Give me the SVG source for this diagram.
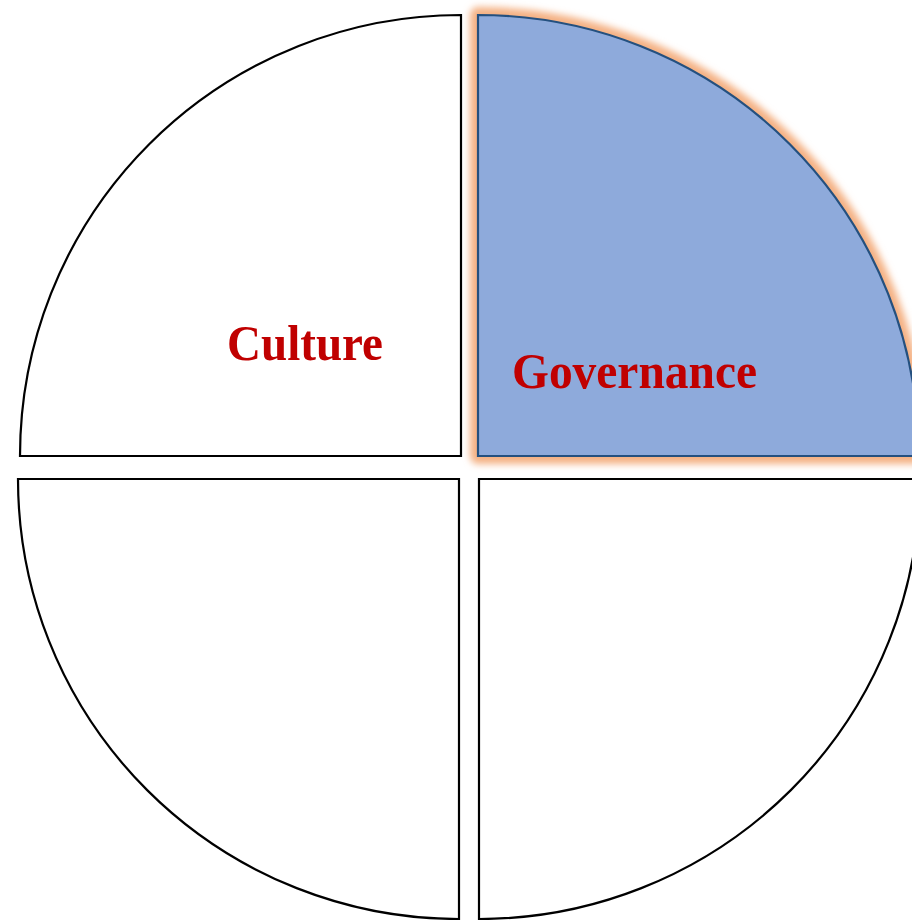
<svg xmlns="http://www.w3.org/2000/svg" width="912" height="920" viewBox="0 0 912 920">
<defs>
<filter id="glow" x="-10%" y="-10%" width="120%" height="120%">
<feGaussianBlur stdDeviation="3.5"/>
</filter>
<style>
.q{fill:#fff;stroke:#000;stroke-width:2.2}
.sel{fill:#8EAADB;stroke:#24507F;stroke-width:2.2}
.lbl{font-family:"Liberation Serif","Times New Roman",serif;font-weight:bold;font-size:50px;fill:#C00000}
</style>
</defs>
<rect width="912" height="920" fill="#fff"/>
<g id="culture">
<path class="q" d="M461,456 L20,456 A441,441 0 0 1 461,15 Z"/>
<text class="lbl" x="227" y="360" textLength="156" lengthAdjust="spacingAndGlyphs">Culture</text>
</g>
<g id="governance">
<path d="M478,456 L478,15 A441,441 0 0 1 919,456 Z" fill="#F8CBAD" stroke="#F4B183" stroke-width="16" stroke-linejoin="round" filter="url(#glow)"/>
<path class="sel" d="M478,456 L478,15 A441,441 0 0 1 919,456 Z"/>
<text class="lbl" x="512" y="388" textLength="245" lengthAdjust="spacingAndGlyphs">Governance</text>
</g>
<g id="bottom-left">
<path class="q" d="M459,479 L18,479 A441,440 0 0 0 459,919 Z"/>
</g>
<g id="bottom-right">
<path class="q" d="M479,479 L479,919 A441,440 0 0 0 920,479 Z"/>
</g>
<g id="connectors"/>
</svg>
